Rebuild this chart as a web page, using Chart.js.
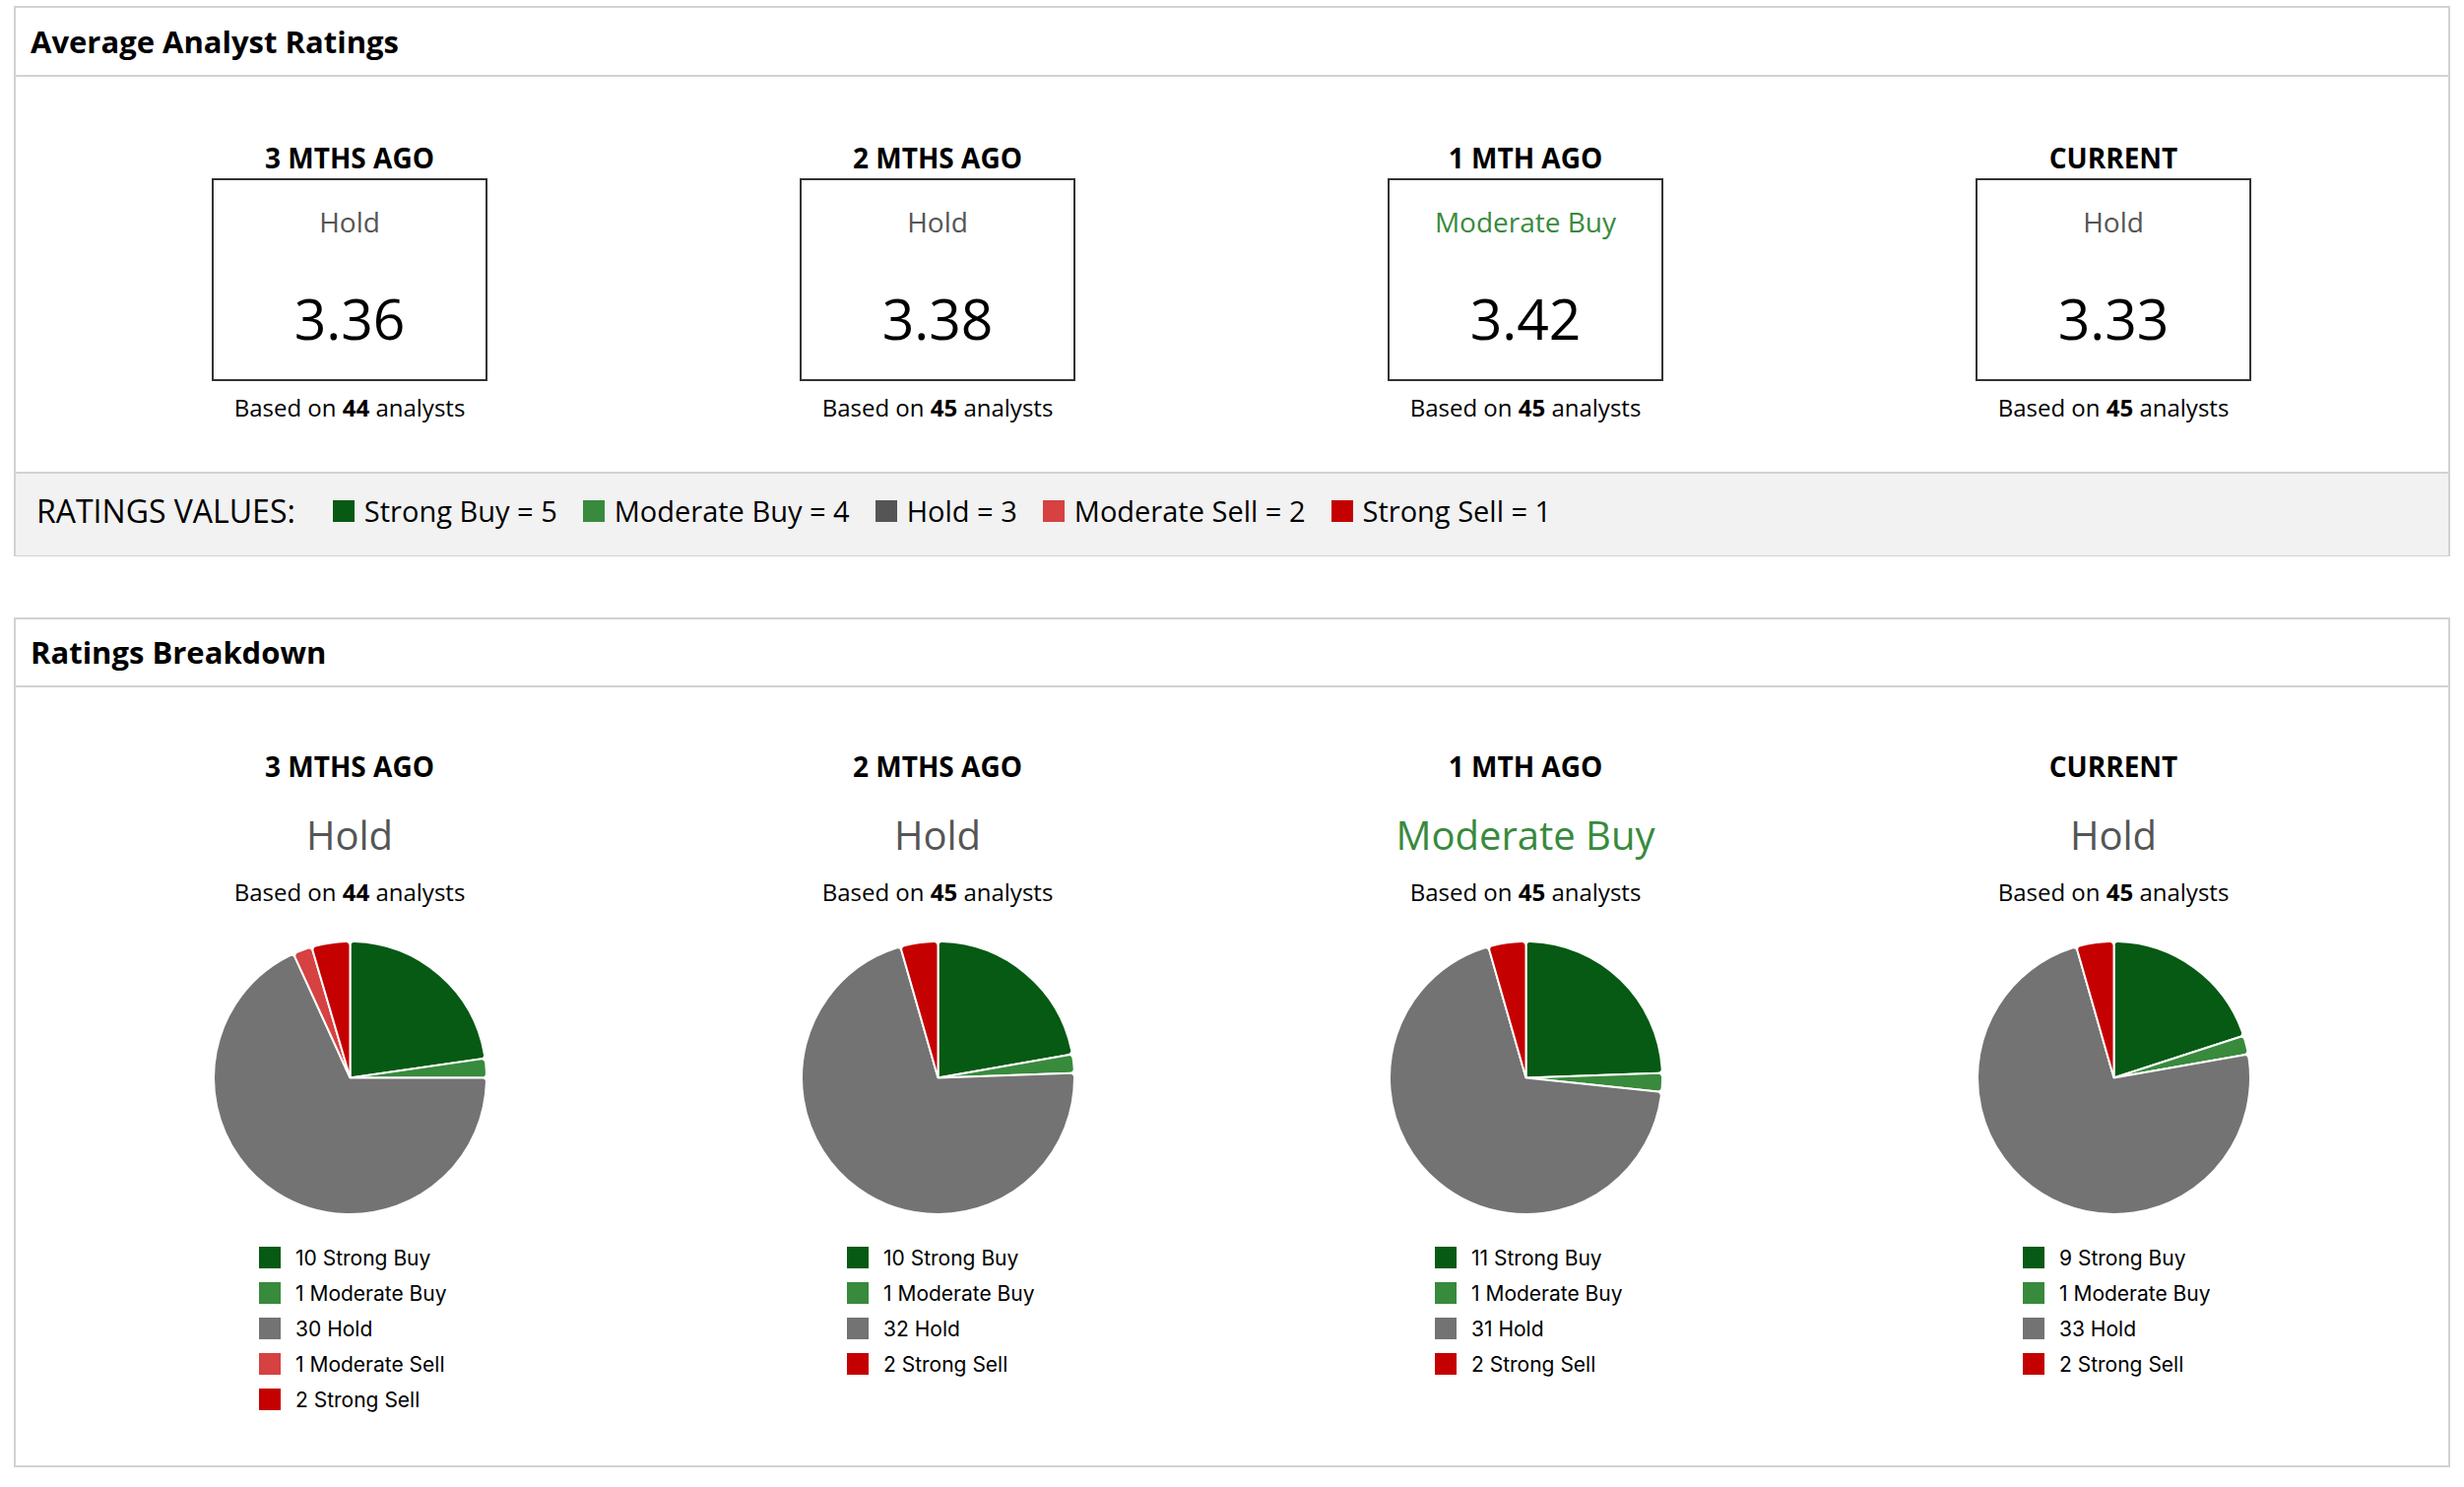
<!DOCTYPE html>
<html>
<head>
<meta charset="utf-8">
<script src="https://cdn.jsdelivr.net/npm/chart.js@4.4.1/dist/chart.umd.min.js"></script>
<style>
html,body{margin:0;padding:0;background:#fff;}
body{width:2502px;height:1510px;position:relative;overflow:hidden;font-family:"Open Sans","Noto Sans",sans-serif;color:#000;}
.panel{position:absolute;left:14px;width:2474px;border:2px solid #d2d2d2;box-sizing:border-box;}
.hline{position:absolute;left:14px;width:2474px;height:2px;background:#d2d2d2;}
.ptitle{position:absolute;left:31px;font-weight:700;font-size:31px;line-height:42px;height:42px;white-space:nowrap;}
.center{position:absolute;width:600px;text-align:center;white-space:nowrap;}
.colhead{font-weight:700;font-size:28px;line-height:38px;height:38px;}
.box{position:absolute;width:280px;height:206px;border:2px solid #333;box-sizing:border-box;}
.box .r{position:absolute;left:0;right:0;text-align:center;font-size:28px;line-height:38px;top:23px;white-space:nowrap;}
.box .v{position:absolute;left:0;right:0;text-align:center;font-size:57px;line-height:70px;top:105px;}
.based{font-size:24px;line-height:34px;height:34px;}
.big{font-size:40px;line-height:54px;height:54px;}
#legbar{position:absolute;left:16px;top:479px;width:2470px;height:85px;background:#f2f2f2;border-top:2px solid #d2d2d2;box-sizing:border-box;display:flex;align-items:center;padding-left:21px;padding-bottom:8px;font-size:29px;white-space:nowrap;}
#legbar .lab{margin-right:38px;font-size:32px;}
#legbar .sq{width:22px;height:22px;margin-right:10px;display:inline-block;}
#legbar .it{display:flex;align-items:center;margin-right:26px;}
.pieleg{position:absolute;font-family:Inter,"Liberation Sans",sans-serif;font-size:21px;color:#000;}
.pieleg .li{position:absolute;left:0;height:36px;display:flex;align-items:center;white-space:nowrap;}
.pieleg .sw{width:22px;height:22px;margin-right:15px;}
canvas{position:absolute;}
</style>
</head>
<body>
<script>
// ---- data ----
const periods = ["3 MTHS AGO", "2 MTHS AGO", "1 MTH AGO", "CURRENT"];
const consensus = ["Hold", "Hold", "Moderate Buy", "Hold"];
const averageRating = [3.36, 3.38, 3.42, 3.33];
const analystCount = [44, 45, 45, 45];
const ratingLabels = ["Strong Buy", "Moderate Buy", "Hold", "Moderate Sell", "Strong Sell"];
const ratingValues = [5, 4, 3, 2, 1];
const strongBuy    = [10, 10, 11, 9];
const moderateBuy  = [1, 1, 1, 1];
const hold         = [30, 32, 31, 33];
const moderateSell = [1, 0, 0, 0];
const strongSell   = [2, 2, 2, 2];

// ---- styles ----
const pieColors = ["#065a14", "#388a3c", "#737373", "#d64141", "#c40000"];
const keyColors = ["#065a14", "#388a3c", "#555555", "#d64141", "#c40000"];
const consensusColor = {"Hold": "#555555", "Moderate Buy": "#388a3c", "Strong Buy": "#065a14", "Moderate Sell": "#d64141", "Strong Sell": "#c40000"};
const colCenters = [355, 952, 1549, 2146];

function el(tag, cls, parent, style, html) {
  const e = document.createElement(tag);
  if (cls) e.className = cls;
  if (style) Object.assign(e.style, style);
  if (html !== undefined) e.innerHTML = html;
  (parent || document.body).appendChild(e);
  return e;
}

// panels
el('div', 'panel', null, {top: '6px', height: '559px'});
el('div', 'hline', null, {top: '76px'});
el('div', 'ptitle', null, {top: '21px'}, 'Average Analyst Ratings');
el('div', 'panel', null, {top: '627px', height: '863px'});
el('div', 'hline', null, {top: '696px'});
el('div', 'ptitle', null, {top: '641px'}, 'Ratings Breakdown');

// ratings values key
const bar = el('div', null, null, {}, '');
bar.id = 'legbar';
el('span', 'lab', bar, {}, 'RATINGS VALUES:');
ratingLabels.forEach((l, i) => {
  const it = el('span', 'it', bar);
  el('span', 'sq', it, {background: keyColors[i]});
  el('span', null, it, {}, l + ' = ' + ratingValues[i]);
});

// top section
periods.forEach((p, i) => {
  const cx = colCenters[i];
  el('div', 'center colhead', null, {left: (cx - 300) + 'px', top: '141px'}, p);
  const b = el('div', 'box', null, {left: (cx - 140) + 'px', top: '181px'});
  el('div', 'r', b, {color: consensusColor[consensus[i]]}, consensus[i]);
  el('div', 'v', b, {}, averageRating[i].toFixed(2));
  el('div', 'center based', null, {left: (cx - 300) + 'px', top: '397px'}, 'Based on <b>' + analystCount[i] + '</b> analysts');
});

// breakdown section
periods.forEach((p, i) => {
  const cx = colCenters[i];
  el('div', 'center colhead', null, {left: (cx - 300) + 'px', top: '759px'}, p);
  el('div', 'center big', null, {left: (cx - 300) + 'px', top: '821px', color: consensusColor[consensus[i]]}, consensus[i]);
  el('div', 'center based', null, {left: (cx - 300) + 'px', top: '889px'}, 'Based on <b>' + analystCount[i] + '</b> analysts');

  const size = 279;
  const cy = 1094;
  const cv = document.createElement('canvas');
  cv.width = size; cv.height = size;
  cv.style.left = (cx - size / 2) + 'px';
  cv.style.top = (cy - size / 2) + 'px';
  cv.style.width = size + 'px'; cv.style.height = size + 'px';
  document.body.appendChild(cv);

  const counts = [strongBuy[i], moderateBuy[i], hold[i], moderateSell[i], strongSell[i]];
  const chart = new Chart(cv, {
    type: 'pie',
    data: {
      labels: ratingLabels,
      datasets: [{data: counts, backgroundColor: pieColors, borderColor: '#ffffff', borderWidth: 2, borderRadius: 4}]
    },
    options: {
      responsive: false, animation: false, devicePixelRatio: 1,
      layout: {padding: 0},
      plugins: {legend: {display: false}, tooltip: {enabled: false}}
    }
  });

  // HTML legend built from the chart's own legend items
  const items = Chart.overrides.pie.plugins.legend.labels.generateLabels(chart)
    .filter(it => chart.data.datasets[0].data[it.index] > 0);
  const lg = el('div', 'pieleg', null, {left: (cx - 92) + 'px', top: '1259px'});
  items.forEach((it, k) => {
    const row = el('div', 'li', lg, {top: (k * 36) + 'px'});
    el('span', 'sw', row, {background: it.fillStyle});
    el('span', null, row, {}, chart.data.datasets[0].data[it.index] + ' ' + it.text);
  });
});
</script>
</body>
</html>
